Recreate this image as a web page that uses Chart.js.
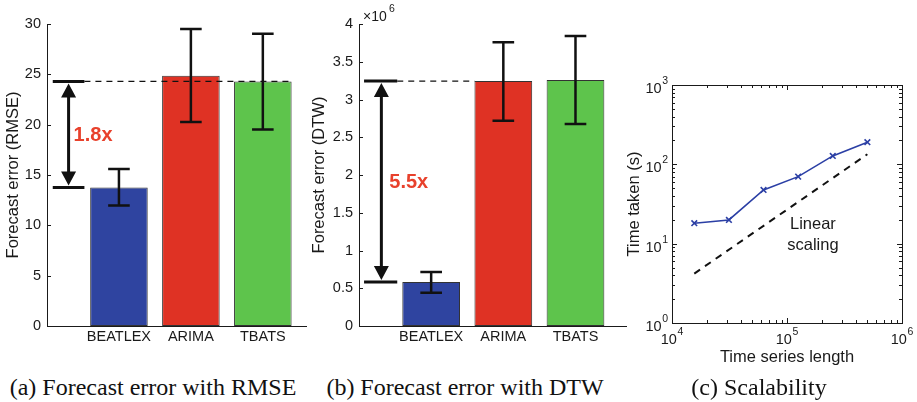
<!DOCTYPE html>
<html>
<head>
<meta charset="utf-8">
<script src="https://cdn.jsdelivr.net/npm/chart.js@4.4.1/dist/chart.umd.min.js"></script>
<style>
  body { margin: 0; background: #fff; }
  #page { position: relative; width: 917px; height: 402px; overflow: hidden; background: #fff; }
  canvas { position: absolute; top: 0; }
  .caption {
    position: absolute; top: 373px; transform: translateX(-50%);
    font-family: "Liberation Serif", "Times New Roman", serif; font-size: 24px; line-height: 28px;
    color: #111; white-space: nowrap;
  }
</style>
</head>
<body>
<div id="page">
  <canvas id="rmseChart" width="310" height="350" style="left:0"></canvas>
  <canvas id="dtwChart" width="320" height="350" style="left:310px"></canvas>
  <canvas id="scaleChart" width="297" height="372" style="left:620px"></canvas>
  <div class="caption" style="left:153px">(a) Forecast error with RMSE</div>
  <div class="caption" style="left:465px">(b) Forecast error with DTW</div>
  <div class="caption" style="left:759px">(c) Scalability</div>
</div>
<script>
// Datos de las tres figuras
const methods = ["BEATLEX", "ARIMA", "TBATS"];
const methodPos = [1, 2, 3];
const barColors = ["#2f44a0", "#df3224", "#5ec44c"];

const rmseMean = [13.77, 24.86, 24.30];
const rmseLow = [11.98, 20.26, 19.53];
const rmseHigh = [15.59, 29.50, 29.04];
const rmseTicks = [0, 5, 10, 15, 20, 25, 30];

const dtwMean = [582000, 3244000, 3257000];
const dtwLow = [442000, 2717000, 2674000];
const dtwHigh = [715000, 3757000, 3841000];
const dtwTicks = [0, 500000, 1000000, 1500000, 2000000, 2500000, 3000000, 3500000, 4000000];

const seriesLength = [15625, 31250, 62500, 125000, 250000, 500000];
const timeTaken = [18.1, 19.9, 47.6, 70.0, 127.6, 190.0];
const linearLength = [15625, 500000];
const linearTime = [4.2, 134];
const lengthTicks = [1e4, 1e5, 1e6];
const timeTicks = [1, 10, 100, 1000];

const sansFont = "'Liberation Sans', Arial, Helvetica, sans-serif";
const ink = "#1a1a1a";

Chart.defaults.font.family = sansFont;
Chart.defaults.color = ink;

function setTicks(values) {
    return scale => { scale.ticks = values.map(v => ({ value: v })); };
}

// "10" con exponente elevado; align = "center" o "right"
function drawPower(ctx, v, px, py, align) {
    const p = String(Math.round(Math.log10(v)));
    ctx.font = "14.5px " + sansFont;
    const wBase = ctx.measureText("10").width;
    ctx.font = "10.5px " + sansFont;
    const wExp = ctx.measureText(p).width;
    const total = wBase + wExp + 0.5;
    const left = align === "right" ? px - total : px - total / 2;
    ctx.textAlign = "left";
    ctx.textBaseline = "middle";
    ctx.font = "14.5px " + sansFont;
    ctx.fillText("10", left, py);
    ctx.font = "10.5px " + sansFont;
    ctx.fillText(p, left + wBase + 0.5, py - 8);
}

// Barras de error, flecha doble y línea discontinua
function barExtras(lows, highs, note) {
    return {
        id: "barExtras",
        afterDatasetsDraw(chart) {
            const { ctx, chartArea } = chart;
            const x = chart.scales.x, y = chart.scales.y;
            ctx.save();

            // ticks hacia dentro (estilo MATLAB)
            ctx.strokeStyle = ink;
            ctx.lineWidth = 1;
            y.ticks.forEach(t => {
                const py = Math.round(y.getPixelForValue(t.value)) + 0.5;
                ctx.beginPath();
                ctx.moveTo(chartArea.left, py);
                ctx.lineTo(chartArea.left + 4, py);
                ctx.stroke();
            });

            // barras de error
            ctx.strokeStyle = "#111";
            ctx.lineWidth = 2.5;
            methodPos.forEach((m, i) => {
                const px = x.getPixelForValue(m);
                const hw = x.getPixelForValue(m + 0.15) - px;
                const top = y.getPixelForValue(highs[i]);
                const bot = y.getPixelForValue(lows[i]);
                ctx.beginPath();
                ctx.moveTo(px, top); ctx.lineTo(px, bot);
                ctx.moveTo(px - hw, top); ctx.lineTo(px + hw, top);
                ctx.moveTo(px - hw, bot); ctx.lineTo(px + hw, bot);
                ctx.stroke();
            });

            const ax = x.getPixelForValue(note.x);
            const c0 = x.getPixelForValue(note.capFrom);
            const c1 = x.getPixelForValue(note.capTo);
            const yHigh = y.getPixelForValue(note.high);
            const yLow = y.getPixelForValue(note.low);

            // línea discontinua
            ctx.setLineDash([6, 5]);
            ctx.lineWidth = 1.3;
            ctx.beginPath();
            ctx.moveTo(c1, yHigh);
            ctx.lineTo(x.getPixelForValue(note.dashTo), yHigh);
            ctx.stroke();
            ctx.setLineDash([]);

            // topes horizontales
            ctx.lineWidth = 3;
            ctx.beginPath();
            ctx.moveTo(c0, yHigh); ctx.lineTo(c1, yHigh);
            ctx.moveTo(c0, yLow); ctx.lineTo(c1, yLow);
            ctx.stroke();

            // flecha doble
            const headH = 14, headW = 7.5;
            ctx.lineWidth = 3;
            ctx.beginPath();
            ctx.moveTo(ax, yHigh + headH);
            ctx.lineTo(ax, yLow - headH);
            ctx.stroke();
            ctx.fillStyle = "#111";
            ctx.beginPath();
            ctx.moveTo(ax, yHigh + 2);
            ctx.lineTo(ax - headW, yHigh + 2 + headH);
            ctx.lineTo(ax + headW, yHigh + 2 + headH);
            ctx.closePath();
            ctx.moveTo(ax, yLow - 2);
            ctx.lineTo(ax - headW, yLow - 2 - headH);
            ctx.lineTo(ax + headW, yLow - 2 - headH);
            ctx.closePath();
            ctx.fill();

            // texto rojo
            ctx.fillStyle = "#e8412c";
            ctx.font = "bold 20px " + sansFont;
            ctx.textAlign = "left";
            ctx.textBaseline = "middle";
            ctx.fillText(note.text, x.getPixelForValue(note.textX), y.getPixelForValue(note.textY));

            // multiplicador del eje
            if (note.exponent) {
                ctx.fillStyle = ink;
                ctx.textBaseline = "alphabetic";
                ctx.font = "14px " + sansFont;
                ctx.fillText("×10", chartArea.left + 4, 21);
                ctx.font = "10.5px " + sansFont;
                ctx.fillText(note.exponent, chartArea.left + 30, 12);
            }
            ctx.restore();
        }
    };
}

function makeBarChart(id, means, lows, highs, yTicks, yMax, xMax, yTitle, yWidth, titlePad, fmt, note) {
    return new Chart(document.getElementById(id), {
        type: "bar",
        data: {
            datasets: [{
                data: methodPos.map((m, i) => ({ x: m, y: means[i] })),
                backgroundColor: barColors,
                borderColor: "#333",
                borderWidth: 1,
                borderSkipped: false,
                barPercentage: 0.8,
                categoryPercentage: 1.0,
            }],
        },
        options: {
            responsive: false,
            animation: false,
            devicePixelRatio: 1,
            layout: { padding: { top: 24, right: 4, left: 0, bottom: 0 } },
            plugins: { legend: { display: false }, tooltip: { enabled: false } },
            scales: {
                x: {
                    type: "linear", min: 0, max: xMax, offset: false,
                    afterBuildTicks: setTicks(methodPos),
                    afterFit: s => { s.height = 24; },
                    grid: { display: false, drawTicks: false },
                    border: { color: ink, width: 1 },
                    ticks: {
                        callback: v => methods[methodPos.indexOf(v)] || "",
                        font: { size: 14.5 }, padding: 2, maxRotation: 0, autoSkip: false,
                    },
                },
                y: {
                    min: 0, max: yMax,
                    afterBuildTicks: setTicks(yTicks),
                    afterFit: s => { s.width = yWidth; },
                    grid: { display: false, drawTicks: false },
                    border: { color: ink, width: 1 },
                    ticks: { callback: fmt, font: { size: 14.5 }, padding: 6 },
                    title: {
                        display: true, text: yTitle, font: { size: 16.5 },
                        padding: { top: titlePad, bottom: 0 },
                    },
                },
            },
        },
        plugins: [barExtras(lows, highs, note)],
    });
}

// Caja, ticks logarítmicos y etiquetas 10^n para la figura (c)
const logBox = {
    id: "logBox",
    afterDatasetsDraw(chart) {
        const { ctx, chartArea: a } = chart;
        const x = chart.scales.x, y = chart.scales.y;
        ctx.save();
        ctx.strokeStyle = ink;
        ctx.lineWidth = 1;
        ctx.strokeRect(Math.round(a.left) + 0.5, Math.round(a.top) + 0.5,
            Math.round(a.right - a.left), Math.round(a.bottom - a.top));

        const marks = (scale, cb) => {
            for (let d = Math.log10(scale.min); d < Math.log10(scale.max) + 0.01; d++) {
                for (let k = 1; k <= 9; k++) {
                    const v = k * Math.pow(10, d);
                    if (v > scale.max * 1.001) break;
                    cb(Math.round(scale.getPixelForValue(v)) + 0.5, k === 1 ? 5 : 3);
                }
            }
        };
        ctx.beginPath();
        marks(x, (px, len) => {
            ctx.moveTo(px, a.bottom); ctx.lineTo(px, a.bottom - len);
            ctx.moveTo(px, a.top); ctx.lineTo(px, a.top + len);
        });
        marks(y, (py, len) => {
            ctx.moveTo(a.left, py); ctx.lineTo(a.left + len, py);
            ctx.moveTo(a.right, py); ctx.lineTo(a.right - len, py);
        });
        ctx.stroke();

        ctx.fillStyle = ink;
        x.ticks.forEach(t => drawPower(ctx, t.value, x.getPixelForValue(t.value), a.bottom + 17, "center"));
        y.ticks.forEach(t => drawPower(ctx, t.value, a.left - 4, y.getPixelForValue(t.value) + 4, "right"));

        // etiqueta de la recta de referencia
        ctx.font = "16.5px " + sansFont;
        ctx.textAlign = "center";
        ctx.textBaseline = "middle";
        ctx.fillText("Linear", x.getPixelForValue(168000), y.getPixelForValue(17.7));
        ctx.fillText("scaling", x.getPixelForValue(168000), y.getPixelForValue(9.6));
        ctx.restore();
    },
};

window.addEventListener("load", () => {
    makeBarChart("rmseChart", rmseMean, rmseLow, rmseHigh, rmseTicks, 30, 3.6,
        "Forecast error (RMSE)", 47, 3.5, v => String(v),
        { x: 0.3, capFrom: 0.08, capTo: 0.52, low: rmseMean[0], high: rmseMean[2],
          dashTo: 3.4, text: "1.8x", textX: 0.37, textY: 18.97 });

    makeBarChart("dtwChart", dtwMean, dtwLow, dtwHigh, dtwTicks, 4000000, 3.7,
        "Forecast error (DTW)", 49, 0, v => String(v / 1e6),
        { x: 0.31, capFrom: 0.07, capTo: 0.53, low: dtwMean[0], high: dtwMean[1],
          dashTo: 1.6, text: "5.5x", textX: 0.42, textY: 1905000, exponent: "6" });

    new Chart(document.getElementById("scaleChart"), {
        type: "line",
        data: {
            datasets: [
                {
                    data: seriesLength.map((v, i) => ({ x: v, y: timeTaken[i] })),
                    borderColor: "#2b3fa5", borderWidth: 1.6,
                    pointStyle: "crossRot", pointRadius: 4,
                    pointBorderColor: "#2b3fa5", pointBorderWidth: 1.6,
                    fill: false, tension: 0,
                },
                {
                    data: linearLength.map((v, i) => ({ x: v, y: linearTime[i] })),
                    borderColor: "#111", borderWidth: 2, borderDash: [7, 6],
                    pointRadius: 0, fill: false,
                },
            ],
        },
        options: {
            responsive: false,
            animation: false,
            devicePixelRatio: 1,
            layout: { padding: { top: 85, right: 15, left: 0, bottom: 0 } },
            plugins: { legend: { display: false }, tooltip: { enabled: false } },
            scales: {
                x: {
                    type: "logarithmic", min: 1e4, max: 1e6,
                    afterBuildTicks: setTicks(lengthTicks),
                    afterFit: s => { s.height = 49; },
                    grid: { display: false, drawTicks: false },
                    border: { display: false },
                    ticks: { display: false },
                    title: { display: true, text: "Time series length", font: { size: 16.5 }, padding: { top: 0, bottom: 5 } },
                },
                y: {
                    type: "logarithmic", min: 1, max: 1000,
                    afterBuildTicks: setTicks(timeTicks),
                    afterFit: s => { s.width = 52; },
                    grid: { display: false, drawTicks: false },
                    border: { display: false },
                    ticks: { display: false },
                    title: { display: true, text: "Time taken (s)", font: { size: 16.5 }, padding: { top: 5, bottom: 0 } },
                },
            },
        },
        plugins: [logBox],
    });
});
</script>
</body>
</html>
